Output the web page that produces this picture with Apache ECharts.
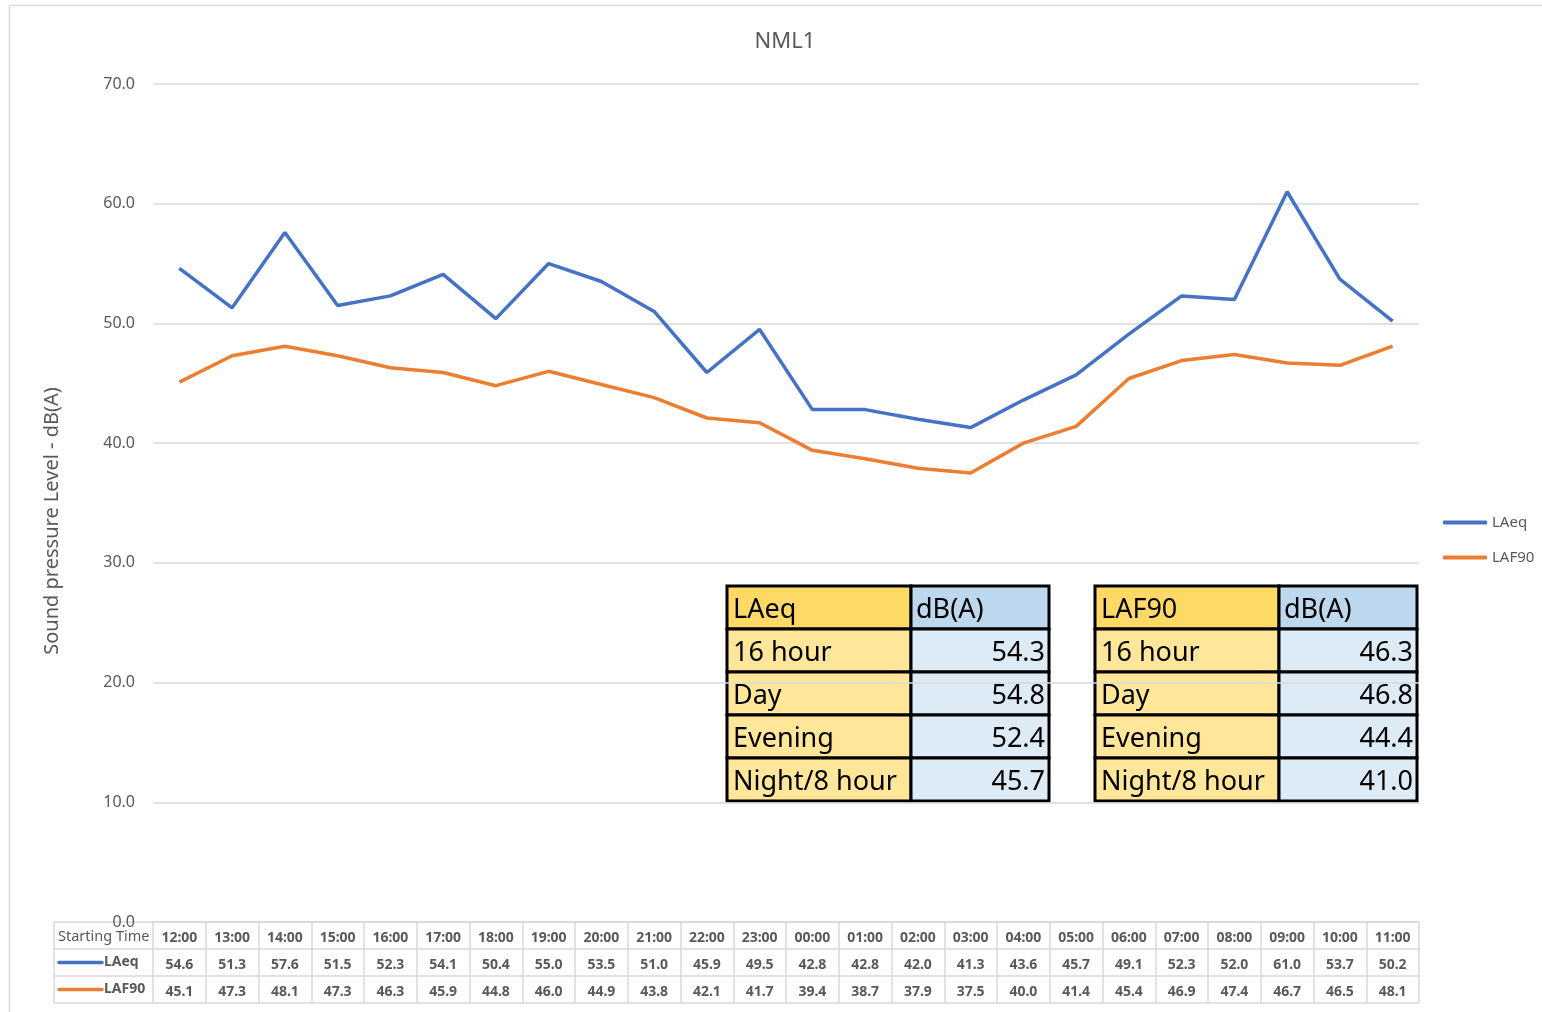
<!DOCTYPE html>
<html>
<head>
<meta charset="utf-8">
<script src="https://cdn.jsdelivr.net/npm/echarts@6/dist/echarts.min.js"></script>
<style>
  html, body { margin: 0; padding: 0; background: #fff; }
  #chart { width: 1542px; height: 1012px; }
</style>
</head>
<body>
<div id="chart"></div>
<script>
const times = ['12:00', '13:00', '14:00', '15:00', '16:00', '17:00', '18:00', '19:00', '20:00', '21:00', '22:00', '23:00',
  '00:00', '01:00', '02:00', '03:00', '04:00', '05:00', '06:00', '07:00', '08:00', '09:00', '10:00', '11:00']
const laeq = [54.6, 51.3, 57.6, 51.5, 52.3, 54.1, 50.4, 55.0, 53.5, 51.0, 45.9, 49.5,
  42.8, 42.8, 42.0, 41.3, 43.6, 45.7, 49.1, 52.3, 52.0, 61.0, 53.7, 50.2]
const laf90 = [45.1, 47.3, 48.1, 47.3, 46.3, 45.9, 44.8, 46.0, 44.9, 43.8, 42.1, 41.7,
  39.4, 38.7, 37.9, 37.5, 40.0, 41.4, 45.4, 46.9, 47.4, 46.7, 46.5, 48.1]

const summaryLabels = ['16 hour', 'Day', 'Evening', 'Night/8 hour']
const laeqSummary = [54.3, 54.8, 52.4, 45.7]
const laf90Summary = [46.3, 46.8, 44.4, 41.0]

const FONT = 'Noto Sans'
const TEXT = '#595959'
const GRID = '#d9d9d9'
const BLUE = '#4472C4'
const ORANGE = '#ED7D31'

const gridLeft = 153, gridRight = 123, gridTop = 84, gridBottom = 90
const rowH = 27

const chart = echarts.init(document.getElementById('chart'))

// one x axis per data-table row, stacked below the plot
const tableAxis = (offset, formatter, showTicks) => ({
  type: 'category',
  data: times,
  position: 'bottom',
  offset: offset,
  boundaryGap: true,
  axisLine: { show: true, lineStyle: { color: GRID, width: 1.5 } },
  axisTick: { show: showTicks, interval: 0, length: rowH, lineStyle: { color: GRID, width: 1.5 } },
  axisLabel: {
    show: !!formatter, interval: 0, margin: 9, formatter: formatter,
    color: TEXT, fontFamily: FONT, fontSize: 14, fontWeight: 'bold'
  },
  splitLine: { show: false }
})

// summary tables (yellow / blue)
const makeTable = (x, y, title, values) => {
  const c1 = 184, c2 = 138, h = 43
  const font = '27px "' + FONT + '"'
  const children = []
  const rows = [[title, 'dB(A)']].concat(summaryLabels.map((l, i) => [l, values[i].toFixed(1)]))
  rows.forEach((r, i) => {
    const yy = y + i * h
    children.push({ type: 'rect', shape: { x: x, y: yy, width: c1, height: h },
      style: { fill: i === 0 ? '#FFD966' : '#FFE699', stroke: '#000', lineWidth: 3 } })
    children.push({ type: 'rect', shape: { x: x + c1, y: yy, width: c2, height: h },
      style: { fill: i === 0 ? '#BDD7EE' : '#DDEBF7', stroke: '#000', lineWidth: 3 } })
    children.push({ type: 'text', x: x + 6, y: yy + h / 2 + 3,
      style: { text: r[0], fill: '#000', font: font, textAlign: 'left', textVerticalAlign: 'middle' } })
    children.push({ type: 'text', x: i === 0 ? x + c1 + 5 : x + c1 + c2 - 4, y: yy + h / 2 + 3,
      style: { text: r[1], fill: '#000', font: font, textAlign: i === 0 ? 'left' : 'right', textVerticalAlign: 'middle' } })
  })
  return { type: 'group', children: children, z: 100 }
}

// header column of the data table
const tableTop = 1012 - gridBottom
const headCol = []
for (let i = 0; i <= 3; i++) {
  headCol.push({ type: 'line', shape: { x1: 54, y1: tableTop + i * rowH, x2: gridLeft, y2: tableTop + i * rowH },
    style: { stroke: GRID, lineWidth: 1.5 } })
}
headCol.push({ type: 'line', shape: { x1: 54, y1: tableTop, x2: 54, y2: tableTop + 3 * rowH }, style: { stroke: GRID, lineWidth: 1.5 } })
headCol.push({ type: 'text', x: 58, y: tableTop + rowH / 2 + 1,
  style: { text: 'Starting Time', fill: TEXT, font: '14.5px "' + FONT + '"', textVerticalAlign: 'middle' } })
;[['LAeq', BLUE], ['LAF90', ORANGE]].forEach((s, i) => {
  const yy = tableTop + (i + 1.5) * rowH
  headCol.push({ type: 'line', shape: { x1: 59, y1: yy, x2: 102, y2: yy }, style: { stroke: s[1], lineWidth: 3.5, lineCap: 'round' } })
  headCol.push({ type: 'text', x: 104, y: yy,
    style: { text: s[0], fill: TEXT, font: 'bold 14px "' + FONT + '"', textVerticalAlign: 'middle' } })
})

const option = {
  textStyle: { fontFamily: FONT },
  animation: false,
  title: {
    text: 'NML1', left: 780, top: 26, textAlign: 'center',
    textStyle: { color: TEXT, fontSize: 22, fontWeight: 'normal', fontFamily: FONT }
  },
  legend: {
    orient: 'vertical', left: 1438, top: 510, itemWidth: 44, itemHeight: 4, itemGap: 20,
    icon: 'roundRect',
    textStyle: { color: TEXT, fontSize: 15, fontFamily: FONT },
    data: ['LAeq', 'LAF90']
  },
  grid: { left: gridLeft, right: gridRight, top: gridTop, bottom: gridBottom },
  xAxis: [
    tableAxis(0, v => v, true),
    tableAxis(rowH, (v, i) => laeq[i].toFixed(1), true),
    tableAxis(rowH * 2, (v, i) => laf90[i].toFixed(1), true),
    tableAxis(rowH * 3, null, false)
  ],
  yAxis: {
    type: 'value', min: 0, max: 70, interval: 10,
    axisLine: { show: false }, axisTick: { show: false },
    axisLabel: { formatter: v => v.toFixed(1), color: TEXT, fontSize: 16, margin: 18, fontFamily: FONT },
    splitLine: { lineStyle: { color: GRID, width: 1.5 } }
  },
  series: [
    { name: 'LAeq', type: 'line', data: laeq, symbol: 'none', lineStyle: { color: BLUE, width: 3.5 }, itemStyle: { color: BLUE } },
    { name: 'LAF90', type: 'line', data: laf90, symbol: 'none', lineStyle: { color: ORANGE, width: 3.5 }, itemStyle: { color: ORANGE } }
  ],
  graphic: [
    { type: 'rect', shape: { x: 9.5, y: 5.5, width: 1700, height: 1200 }, style: { fill: 'none', stroke: GRID, lineWidth: 1.5 }, silent: true },
    { type: 'text', x: 52, y: 521, rotation: Math.PI / 2,
      style: { text: 'Sound pressure Level - dB(A)', fill: TEXT, font: '20px "' + FONT + '"', textAlign: 'center', textVerticalAlign: 'middle' } },
    ...headCol,
    makeTable(727, 586, 'LAeq', laeqSummary),
    makeTable(1095, 586, 'LAF90', laf90Summary)
  ]
}

chart.setOption(option)
window.addEventListener('resize', () => chart.resize())
</script>
</body>
</html>
